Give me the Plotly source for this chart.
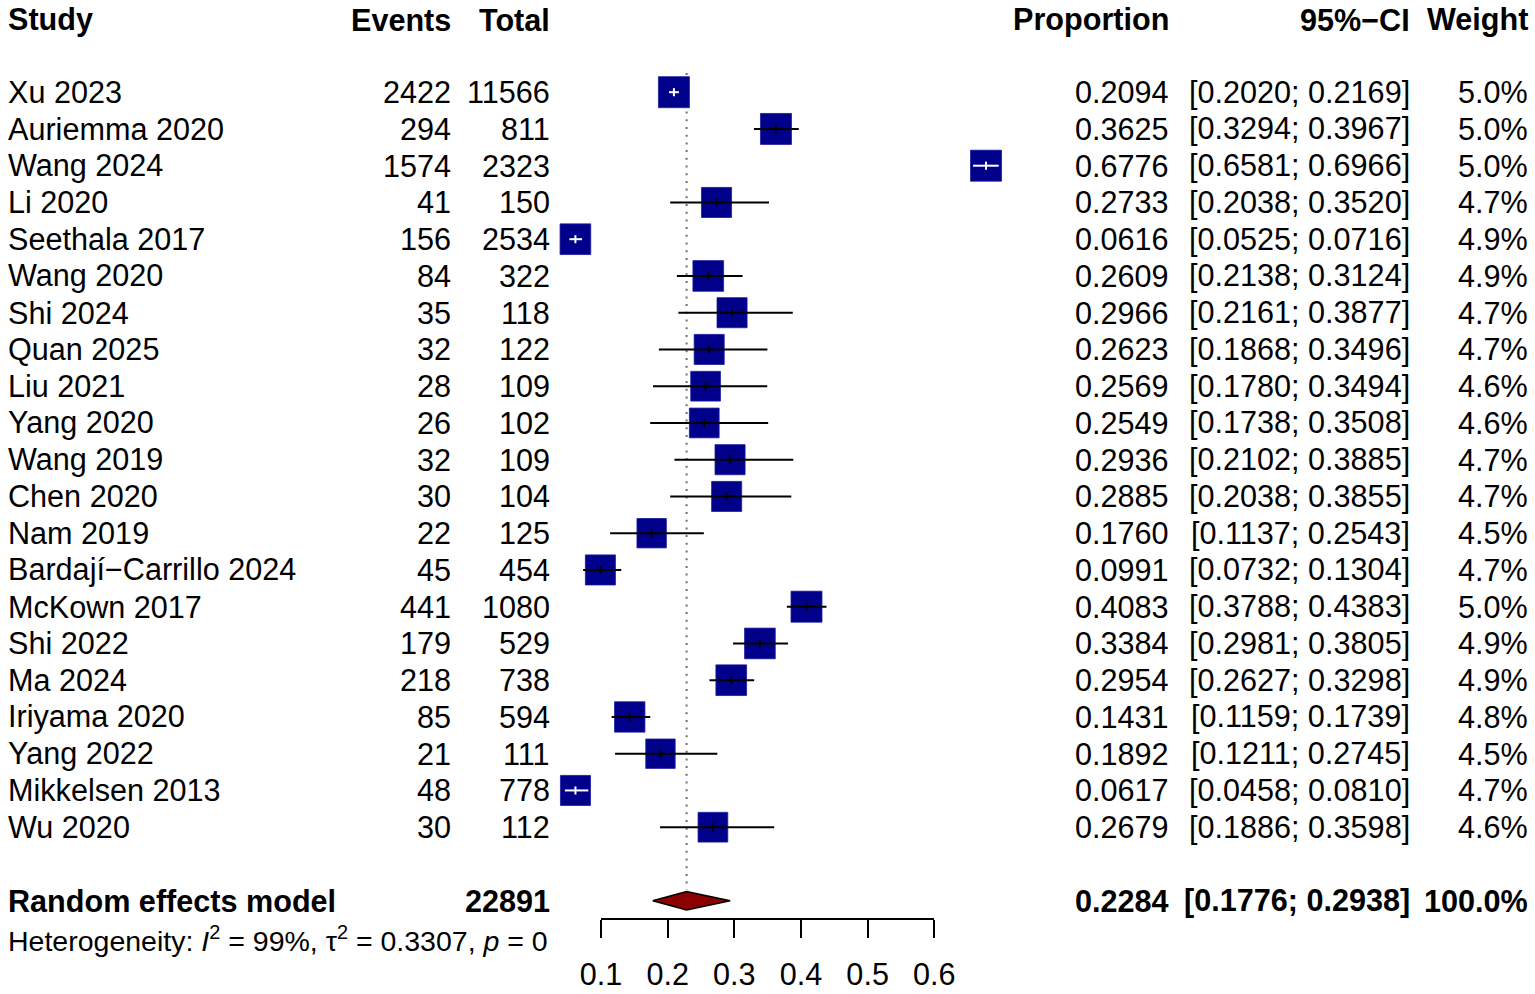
import math
import plotly.graph_objects as go

# ---------------- data ----------------
studies = ["Xu 2023", "Auriemma 2020", "Wang 2024", "Li 2020", "Seethala 2017",
           "Wang 2020", "Shi 2024", "Quan 2025", "Liu 2021", "Yang 2020",
           "Wang 2019", "Chen 2020", "Nam 2019", "Bardají−Carrillo 2024",
           "McKown 2017", "Shi 2022", "Ma 2024", "Iriyama 2020", "Yang 2022",
           "Mikkelsen 2013", "Wu 2020"]
events = [2422, 294, 1574, 41, 156, 84, 35, 32, 28, 26, 32, 30, 22, 45,
          441, 179, 218, 85, 21, 48, 30]
totals = [11566, 811, 2323, 150, 2534, 322, 118, 122, 109, 102, 109, 104,
          125, 454, 1080, 529, 738, 594, 111, 778, 112]
proportion = [0.2094, 0.3625, 0.6776, 0.2733, 0.0616, 0.2609, 0.2966, 0.2623,
              0.2569, 0.2549, 0.2936, 0.2885, 0.1760, 0.0991, 0.4083, 0.3384,
              0.2954, 0.1431, 0.1892, 0.0617, 0.2679]
ci_lower = [0.2020, 0.3294, 0.6581, 0.2038, 0.0525, 0.2138, 0.2161, 0.1868,
            0.1780, 0.1738, 0.2102, 0.2038, 0.1137, 0.0732, 0.3788, 0.2981,
            0.2627, 0.1159, 0.1211, 0.0458, 0.1886]
ci_upper = [0.2169, 0.3967, 0.6966, 0.3520, 0.0716, 0.3124, 0.3877, 0.3496,
            0.3494, 0.3508, 0.3885, 0.3855, 0.2543, 0.1304, 0.4383, 0.3805,
            0.3298, 0.1739, 0.2745, 0.0810, 0.3598]
weights = [5.0, 5.0, 5.0, 4.7, 4.9, 4.9, 4.7, 4.7, 4.6, 4.6, 4.7, 4.7, 4.5,
           4.7, 5.0, 4.9, 4.9, 4.8, 4.5, 4.7, 4.6]

pooled_label = "Random effects model"
pooled_total = 22891
pooled_est = 0.2284
pooled_lower = 0.1776
pooled_upper = 0.2938
pooled_weight = "100.0%"
het_text = "Heterogeneity: <i>I</i><sup>2</sup> = 99%, τ<sup>2</sup> = 0.3307, <i>p</i> = 0"

headers = ["Study", "Events", "Total", "Proportion", "95%−CI", "Weight"]
tick_vals = [0.1, 0.2, 0.3, 0.4, 0.5, 0.6]
tick_text = ["0.1", "0.2", "0.3", "0.4", "0.5", "0.6"]

# ---------------- geometry ----------------
W, H = 1535, 994
FONT = "Liberation Sans, Arial, Helvetica, sans-serif"
FS = 30.6
AX0_PX, AX1_PX = 601.0, 934.3           # pixel of 0.1 and 0.6
PPU = (AX1_PX - AX0_PX) / 0.5           # pixels per unit
x_lo = 0.1 - AX0_PX / PPU
x_hi = 0.1 + (W - AX0_PX) / PPU
ROW_PX = 36.75
TOP_PX = 92.2
y_top = TOP_PX / ROW_PX
y_bot = -(H - TOP_PX) / ROW_PX

n = len(studies)
rows = [-i for i in range(n)]
y_pool = -(n + 1)
y_head = 1.97
y_het = -23.03

SQ_MAX = 31
sizes = [SQ_MAX * math.sqrt(w / max(weights)) for w in weights]

SQUARE_COL = "#00008B"
DIAMOND_COL = "#8B0000"

fig = go.Figure()

# dotted reference line at pooled estimate
fig.add_trace(go.Scatter(
    x=[pooled_est, pooled_est], y=[0.52, y_pool + 0.30], mode="lines",
    line=dict(color="#6e6e6e", width=2, dash="2px,5.7px"),
    hoverinfo="skip", showlegend=False))

# squares
fig.add_trace(go.Scatter(
    x=proportion, y=rows, mode="markers",
    marker=dict(symbol="square", size=sizes, color=SQUARE_COL, opacity=1,
                line=dict(width=0.8, color="#1a1aa0")),
    hoverinfo="skip", showlegend=False))

# CI lines (white if inside the square, black otherwise)
bx, by, wx, wy = [], [], [], []
tick = 0.11
for i in range(n):
    inside = (ci_upper[i] - ci_lower[i]) * PPU < sizes[i]
    xs = [ci_lower[i], ci_upper[i], None, proportion[i], proportion[i], None]
    ys = [rows[i], rows[i], None, rows[i] - tick, rows[i] + tick, None]
    if inside:
        wx += xs; wy += ys
    else:
        bx += xs; by += ys
fig.add_trace(go.Scatter(x=bx, y=by, mode="lines",
                         line=dict(color="black", width=2),
                         hoverinfo="skip", showlegend=False))
fig.add_trace(go.Scatter(x=wx, y=wy, mode="lines",
                         line=dict(color="white", width=2),
                         hoverinfo="skip", showlegend=False))

# diamond
dh = 9.2 / ROW_PX
fig.add_trace(go.Scatter(
    x=[pooled_lower, pooled_est, pooled_upper, pooled_est, pooled_lower],
    y=[y_pool, y_pool + dh, y_pool, y_pool - dh, y_pool],
    mode="lines", fill="toself", fillcolor=DIAMOND_COL,
    line=dict(color="black", width=1.5),
    hoverinfo="skip", showlegend=False))

# invisible trace for the visible x axis
fig.add_trace(go.Scatter(x=[tick_vals[0], tick_vals[-1]], y=[0, 0],
                         xaxis="x2", yaxis="y2", mode="markers",
                         marker=dict(opacity=0), hoverinfo="skip", showlegend=False))

# ---------------- text ----------------
col_x = [6, 453, 552, 1171, 1412, 1530]
col_anchor = ["left", "right", "right", "right", "right", "right"]
ann = []

def add(text, px, y, anchor, bold=False, size=FS):
    ann.append(dict(text=f"<b>{text}</b>" if bold else text,
                    x=px / W, xref="paper", y=y, yref="y",
                    xanchor=anchor, yanchor="middle", showarrow=False,
                    font=dict(family=FONT, size=size, color="black")))

for h, px, a in zip(headers, col_x, col_anchor):
    add(h, px, y_head, a, bold=True)

for i in range(n):
    vals = [studies[i], str(events[i]), str(totals[i]), f"{proportion[i]:.4f}",
            f"[{ci_lower[i]:.4f}; {ci_upper[i]:.4f}]", f"{weights[i]:.1f}%"]
    for v, px, a in zip(vals, col_x, col_anchor):
        add(v, px, rows[i], a)

pool_vals = [pooled_label, "", str(pooled_total), f"{pooled_est:.4f}",
             f"[{pooled_lower:.4f}; {pooled_upper:.4f}]", pooled_weight]
for v, px, a in zip(pool_vals, col_x, col_anchor):
    if v:
        add(v, px, y_pool, a, bold=True)

add(het_text, col_x[0], y_het, "left", size=28.5)

fig.update_layout(
    width=W, height=H,
    margin=dict(l=0, r=0, t=0, b=0, pad=0, autoexpand=False),
    paper_bgcolor="white", plot_bgcolor="rgba(0,0,0,0)",
    showlegend=False,
    xaxis=dict(range=[x_lo, x_hi], visible=False, fixedrange=True, domain=[0, 1]),
    yaxis=dict(range=[y_bot, y_top], visible=False, fixedrange=True, domain=[0, 1]),
    xaxis2=dict(range=[0.1, 0.6], domain=[AX0_PX / W, AX1_PX / W],
                anchor="free", position=1 - 919 / H,
                showline=True, linecolor="black", linewidth=2,
                ticks="outside", ticklen=18, tickwidth=2, tickcolor="black",
                tickvals=tick_vals, ticktext=tick_text,
                tickfont=dict(family=FONT, size=FS, color="black"),
                ticklabelstandoff=10,
                showgrid=False, zeroline=False, fixedrange=True),
    yaxis2=dict(range=[-1, 1], domain=[0, 1], anchor="x2", visible=False,
                fixedrange=True),
    annotations=ann,
)

fig.write_html("out.html", config={"displayModeBar": False, "staticPlot": True},
               post_script="document.body.style.margin='0';document.body.style.overflow='hidden';")
